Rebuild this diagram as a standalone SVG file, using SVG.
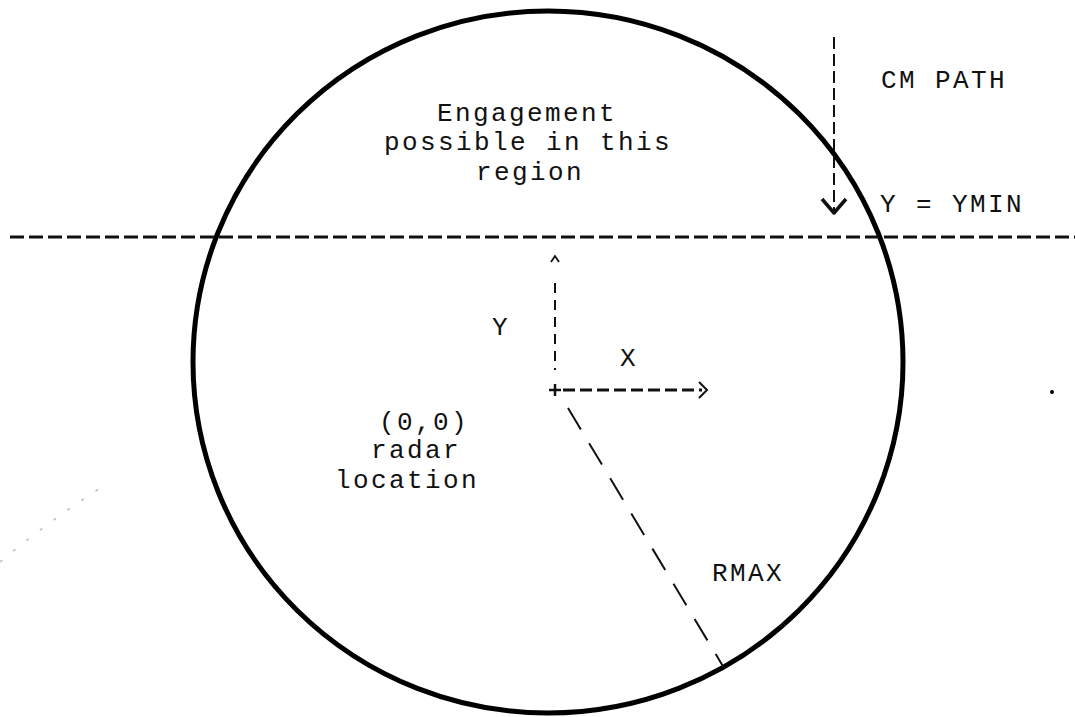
<svg xmlns="http://www.w3.org/2000/svg" width="1075" height="717" viewBox="0 0 1075 717">
<style>
  text { font-family: "Liberation Mono", "DejaVu Sans Mono", monospace; font-size: 26px; letter-spacing: 2.4px; fill: #111; }
  .dash { fill: none; stroke: #111; }
</style>
<rect width="1075" height="717" fill="#fff"/>
<g id="range-circle">
  <ellipse cx="548" cy="362" rx="355" ry="351" fill="none" stroke="#000" stroke-width="5"/>
</g>
<g id="connectors">
  <line class="dash" x1="10" y1="237" x2="1075" y2="237" stroke-width="3.2" stroke-dasharray="14,5"/>
  <line class="dash" x1="834" y1="37" x2="834" y2="210" stroke-width="2" stroke-dasharray="12,5"/>
  <polyline class="dash" points="822,199 834,213 846,199" stroke-width="3.5" stroke-linejoin="round"/>
  <line class="dash" x1="555" y1="283" x2="555" y2="370" stroke-width="2" stroke-dasharray="10,7"/>
  <polyline class="dash" points="551,262 555,256 559,262" stroke-width="1.8"/>
  <line class="dash" x1="549" y1="390" x2="561" y2="390" stroke-width="2.5"/>
  <line class="dash" x1="555" y1="384" x2="555" y2="396" stroke-width="2.5"/>
  <line class="dash" x1="563" y1="390" x2="702" y2="390" stroke-width="3" stroke-dasharray="12,5"/>
  <polyline class="dash" points="699,382 707,390 699,398" stroke-width="2"/>
  <line class="dash" x1="568" y1="408" x2="724" y2="668" stroke-width="2" stroke-dasharray="25,16"/>
  <path d="M0,562 Q50,520 105,485" fill="none" stroke="#bbb" stroke-width="1.5" stroke-dasharray="3,14"/>
  <circle cx="1052" cy="392" r="2" fill="#000"/>
</g>
<g id="label-engagement">
  <text x="437" y="121">Engagement</text>
  <text x="384" y="150">possible in this</text>
  <text x="476" y="180">region</text>
</g>
<g id="label-cm-path"><text x="881" y="88">CM PATH</text></g>
<g id="label-ymin"><text x="880" y="212">Y = YMIN</text></g>
<g id="label-y"><text x="492" y="335">Y</text></g>
<g id="label-x"><text x="620" y="366">X</text></g>
<g id="label-radar">
  <text x="379" y="430">(0,0)</text>
  <text x="371" y="458">radar</text>
  <text x="335" y="488">location</text>
</g>
<g id="label-rmax"><text x="712" y="581">RMAX</text></g>
</svg>
